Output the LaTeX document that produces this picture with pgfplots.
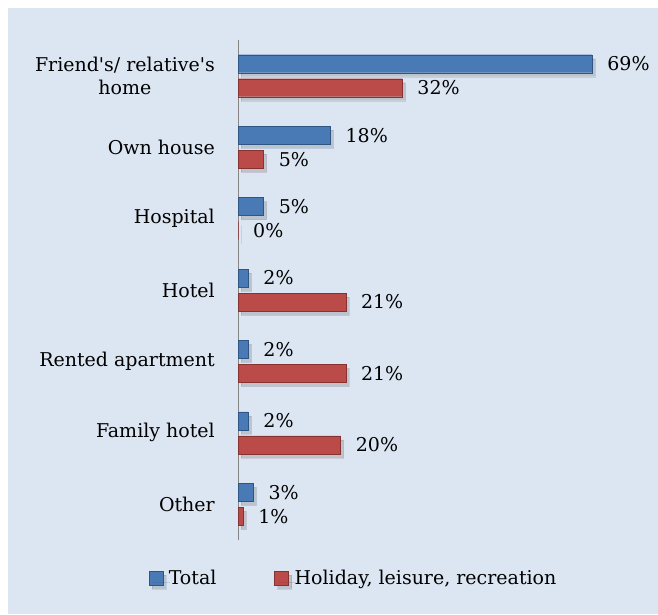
\documentclass[border=0pt]{standalone}
\usepackage{fontspec}
\setmainfont{DejaVu Serif}
\usepackage{pgfplots}
\pgfplotsset{compat=1.18}
\definecolor{bg}{HTML}{DCE6F2}
\definecolor{blueM}{HTML}{4A7AB5}
\definecolor{blueD}{HTML}{2F5582}
\definecolor{redM}{HTML}{BB4B48}
\definecolor{redD}{HTML}{853230}
\definecolor{axisgray}{HTML}{868686}

\begin{document}
\begin{tikzpicture}
\useasboundingbox (0,0) rectangle (658pt,614pt);
\fill[white] (0,0) rectangle (658pt,614pt);
\fill[bg] (8pt,0) rectangle (658pt,606pt);
\begin{axis}[
  at={(238pt,74pt)}, anchor=south west,
  scale only axis, width=385pt, height=500pt,
  xmin=0, xmax=75, ymin=-0.5, ymax=6.5,
  xbar, bar width=18pt,
  axis lines=left, axis line style={draw=axisgray, line width=1pt, -},
  x axis line style={draw=none},
  xtick=\empty, ytick={0,...,6},
  yticklabels={Other,Family hotel,Rented apartment,Hotel,Hospital,Own house,{Friend\textquotesingle s/ relative\textquotesingle s\\home}},
  major tick length=0pt,
  font=\fontsize{19}{23}\selectfont,
  yticklabel style={align=center, inner sep=0pt, xshift=-23pt},
  nodes near coords={\pgfmathprintnumber[fixed,precision=0,assume math mode=true]{\pgfplotspointmeta}\%},
  every node near coord/.append style={black, inner sep=0pt, xshift=15pt, anchor=west},
  legend style={at={(0.30,-0.076)}, anchor=center, draw=none, fill=none,
    legend columns=2, /tikz/every even column/.append style={column sep=56pt},
    font=\fontsize{19}{23}\selectfont},
  legend image code/.code={\fill[#1] (-8pt,-7pt) rectangle (6pt,7pt);
    \path[draw=none, fill=none] (-8pt,0) -- (10pt,0);},
  clip=false,
]
\addplot[bar shift=12pt, draw=blueD, fill=blueM,
  preaction={fill=black, opacity=0.15, transform canvas={xshift=3pt,yshift=-4pt}}]
  coordinates {(3,0) (2,1) (2,2) (2,3) (5,4) (18,5) (69,6)};
\addplot[bar shift=-12pt, draw=redD, fill=redM,
  preaction={fill=black, opacity=0.15, transform canvas={xshift=3pt,yshift=-4pt}}]
  coordinates {(1,0) (20,1) (21,2) (21,3) (0,4) (5,5) (32,6)};
\legend{Total, {Holiday, leisure, recreation}}
\end{axis}
\end{tikzpicture}
\end{document}
